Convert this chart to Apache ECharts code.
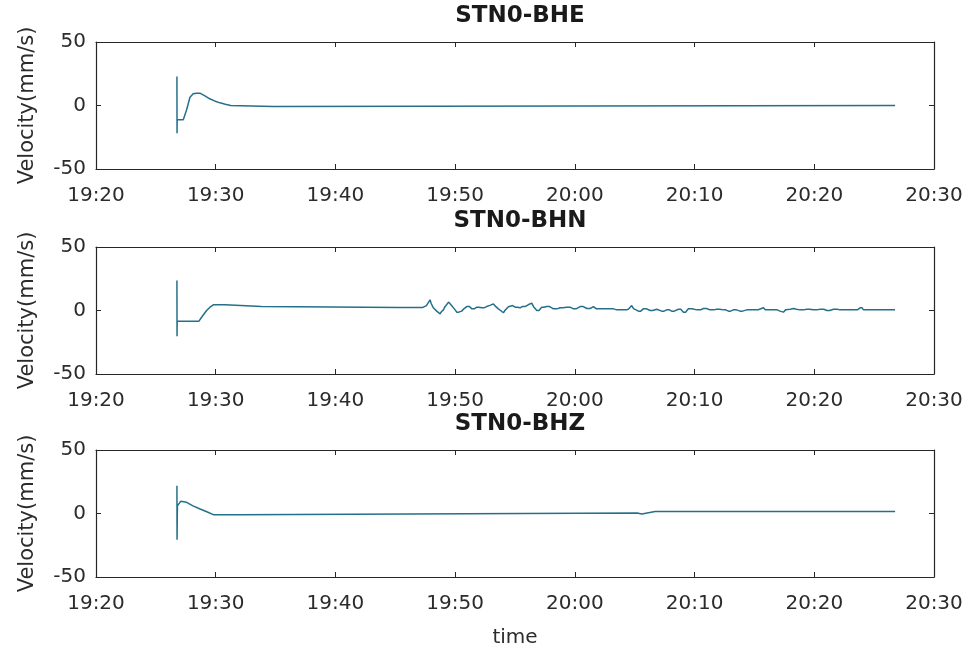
<!DOCTYPE html>
<html>
<head>
<meta charset="utf-8">
<script src="https://cdn.jsdelivr.net/npm/echarts@6/dist/echarts.min.js"></script>
<style>
  html, body { margin: 0; padding: 0; background: #ffffff; }
  #chart { width: 973px; height: 649px; }
</style>
</head>
<body>
<div id="chart"></div>
<script>
// x values are minutes after 19:20
const tickLabels = ['19:20', '19:30', '19:40', '19:50', '20:00', '20:10', '20:20', '20:30'];
const stations = ['STN0-BHE', 'STN0-BHN', 'STN0-BHZ'];

const bheTime = [6.76, 6.77, 6.78, 7.29, 7.57, 7.85, 8.12, 8.4, 8.68, 9.1, 9.5, 9.9, 10.35, 10.8, 11.25, 11.3, 14.8, 14.85, 66.75];
const bheVel  = [22.8, -21.8, -11.3, -11.3, -3.4, 6.5, 9.2, 9.7, 9.7, 7.6, 5.3, 3.6, 2.1, 1.0, 0.0, -0.8, -0.8, 0.0, 0.0];

const bhnTime = [6.76, 6.77, 6.78, 8.6, 8.82, 9.24, 9.52, 9.8, 10.77, 10.8, 13.83, 13.9,
  25.4, 27.3, 27.45, 27.6, 27.76, 27.9, 28.0, 28.18, 28.3, 28.46, 28.6, 28.74, 28.85, 29.02,
  29.15, 29.3, 29.45, 29.58, 29.7, 29.85, 30.0, 30.13, 30.3, 30.55, 30.75, 30.97, 31.2, 31.39,
  31.6, 31.81, 32.0, 32.22, 32.4, 32.64, 32.9, 33.2, 33.4, 33.61, 33.8, 34.03, 34.15, 34.31,
  34.45, 34.59, 34.8, 35.01, 35.2, 35.43, 35.6, 35.84, 36.1, 36.4, 36.55, 36.82, 37.0, 37.23,
  37.4, 37.65, 37.9, 38.21, 38.5, 38.76, 39.0, 39.32, 39.6, 39.88, 40.1, 40.44, 40.7, 41.0,
  41.3, 41.55, 41.8, 42.11,
  43.22, 43.5, 43.78, 44.3, 44.47, 44.6, 44.75, 44.9, 45.03, 45.31, 45.5, 45.72, 46.0, 46.28,
  46.5, 46.84, 47.0, 47.26, 47.45, 47.67, 47.9, 48.09, 48.3, 48.65, 48.85, 49.07, 49.25, 49.48,
  49.8, 50.18, 50.5, 50.74, 51.0, 51.29, 51.6, 51.85, 52.1, 52.41, 52.6, 52.83, 53.0, 53.24,
  53.5, 53.8, 54.0, 54.36, 55.3, 55.47, 55.75, 55.9, 56.59, 56.9, 57.14, 57.42, 57.6, 57.7,
  58.0, 58.26, 58.5, 58.82, 59.1, 59.37, 59.6, 59.93, 60.2, 60.49, 60.8, 61.05, 61.3, 61.6,
  61.9, 62.16, 63.6, 63.83, 64.0, 64.11, 66.75];
const bhnVel  = [23.6, -20.2, -8.4, -8.4, -5.3, 0.0, 2.6, 4.5, 4.5, 3.1, 3.1, 2.1,
  2.4, 2.4, 3.9, 3.9, 5.2, 8.4, 5.5, 2.1, 2.1, -0.5, -0.5, -2.6, -1.0, 0.5,
  3.0, 4.7, 6.6, 6.6, 4.0, 2.6, 0.5, -1.3, -1.3, -0.5, 1.5, 3.1, 3.1, 1.3,
  1.3, 2.6, 2.6, 2.1, 2.1, 3.1, 4.0, 5.2, 3.0, 1.3, 0.0, -1.8, 0.0, 1.3,
  3.0, 3.9, 3.9, 2.6, 2.6, 2.1, 3.1, 3.1, 4.5, 5.8, 3.0, 0.0, 0.0, 2.6,
  2.6, 3.1, 3.1, 1.3, 1.3, 2.1, 2.1, 2.6, 2.6, 1.3, 1.3, 3.1, 3.1, 1.6,
  1.6, 3.1, 1.3, 1.3,
  1.3, 0.5, 0.5, 0.5, 1.0, 2.5, 3.9, 1.5, 0.5, -0.5, -0.5, 1.3, 1.3, 0.0,
  0.0, 1.0, 1.0, -0.5, -0.5, 0.5, 0.5, -0.5, -0.5, 1.0, 1.0, -1.3, -1.3, 1.3,
  1.3, 0.5, 0.5, 1.6, 1.6, 0.5, 0.5, 1.0, 1.0, 0.5, 0.5, -0.5, -0.5, 0.5,
  0.5, -0.5, -0.5, 0.5, 0.5, 1.2, 2.1, 0.5, 0.5, 0.5, -0.5, -1.3, 0.5, 1.0,
  1.0, 1.6, 1.0, 0.5, 0.5, 1.0, 1.0, 0.5, 0.5, 1.0, 1.0, 0.0, 0.0, 1.0,
  1.0, 0.5, 0.5, 2.1, 2.1, 0.5, 0.5];

const bhzTime = [6.76, 6.77, 6.8, 7.07, 7.57, 8.1, 8.7, 9.3, 9.8, 11.9, 12.0, 45.2, 45.3, 45.6, 46.7, 66.75];
const bhzVel  = [21.9, -20.6, 6.0, 9.6, 8.8, 6.0, 3.5, 1.2, -0.9, -0.9, 0.4, 0.4, 1.5, -0.4, 1.5, 1.5];

const times = [bheTime, bhnTime, bhzTime];
const vels = [bheVel, bhnVel, bhzVel];

const LINE_COLOR = '#24708a';
const AXIS_COLOR = '#262626';
const TEXT_COLOR = '#2b2b2b';
const FONT = 'DejaVu Sans';

const gridTops = [42, 247, 450];
const plotH = 127;

const grids = [], xAxes = [], yAxes = [], series = [], titles = [];
gridTops.forEach((top, i) => {
  grids.push({ left: 96, right: 39, top: top, height: plotH });
  const tick = { show: true, inside: true, length: 5, lineStyle: { color: AXIS_COLOR, width: 1 } };
  const line = { show: true, onZero: false, lineStyle: { color: AXIS_COLOR, width: 1.2 } };
  xAxes.push({
    type: 'value', gridIndex: i, min: 0, max: 70, interval: 10, position: 'bottom',
    axisLine: line, axisTick: tick, splitLine: { show: false },
    axisLabel: {
      color: TEXT_COLOR, fontFamily: FONT, fontSize: 20, margin: 17, showMaxLabel: true,
      formatter: (v) => tickLabels[Math.round(v / 10)]
    },
    name: i === 2 ? 'time' : '', nameLocation: 'middle', nameGap: 51,
    nameTextStyle: { color: TEXT_COLOR, fontFamily: FONT, fontSize: 20 }
  });
  xAxes.push({
    type: 'value', gridIndex: i, min: 0, max: 70, interval: 10, position: 'top',
    axisLine: line, axisTick: tick, axisLabel: { show: false }, splitLine: { show: false }
  });
  yAxes.push({
    type: 'value', gridIndex: i, min: -50, max: 50, interval: 50, position: 'left',
    axisLine: line, axisTick: tick, splitLine: { show: false },
    axisLabel: { color: TEXT_COLOR, fontFamily: FONT, fontSize: 20, margin: 10 },
    name: 'Velocity(mm/s)', nameLocation: 'middle', nameGap: 58,
    nameTextStyle: { color: TEXT_COLOR, fontFamily: FONT, fontSize: 21 }
  });
  yAxes.push({
    type: 'value', gridIndex: i, min: -50, max: 50, interval: 50, position: 'right',
    axisLine: line, axisTick: tick, axisLabel: { show: false }, splitLine: { show: false }
  });
  series.push({
    type: 'line', xAxisIndex: i * 2, yAxisIndex: i * 2, showSymbol: false,
    lineStyle: { color: LINE_COLOR, width: 1.5 },
    data: times[i].map((t, k) => [t, vels[i][k]])
  });
  titles.push({
    text: stations[i], left: 515, textAlign: 'center', top: top - 42,
    textStyle: { color: '#1a1a1a', fontFamily: FONT, fontSize: 23, fontWeight: 'bold' }
  });
});

const chart = echarts.init(document.getElementById('chart'));
chart.setOption({
  backgroundColor: '#ffffff',
  animation: false,
  title: titles,
  grid: grids,
  xAxis: xAxes,
  yAxis: yAxes,
  series: series
});
</script>
</body>
</html>
